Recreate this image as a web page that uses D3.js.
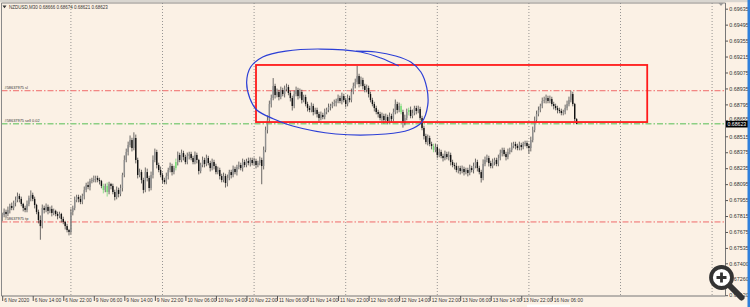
<!DOCTYPE html>
<html><head><meta charset="utf-8">
<script src="https://cdn.jsdelivr.net/npm/d3@7"></script>
<style>html,body{margin:0;padding:0;background:#fbf1e5;overflow:hidden}svg{display:block}</style>
</head><body><svg id="c" width="750" height="307"></svg>
<script>
// ---------- data ----------
const symbol = "NZDUSD,M30";
const firstOpen = 0.67800;
const closes = [
0.67824,0.67851,0.67833,0.67868,0.67903,0.67886,0.67930,0.67956,0.67991,0.67965,
0.67921,0.67886,0.67868,0.67921,0.67974,0.68000,0.67965,0.67912,0.67851,0.67780,
0.67727,0.67886,0.67868,0.67895,0.67860,0.67877,0.67842,0.67860,0.67833,0.67816,
0.67833,0.67789,0.67763,0.67727,0.67692,0.67675,0.67851,0.67886,0.67956,0.67982,
0.67965,0.67939,0.67991,0.68044,0.68087,0.68070,0.68122,0.68131,0.68140,0.68149,
0.68131,0.68122,0.68079,0.68044,0.68079,0.68026,0.68096,0.68079,0.68026,0.67982,
0.68044,0.68009,0.68061,0.68175,0.68307,0.68377,0.68438,0.68482,0.68412,0.68500,
0.68307,0.68175,0.68201,0.68131,0.68044,0.68201,0.68149,0.68061,0.68175,0.68307,
0.68377,0.68263,0.68219,0.68175,0.68131,0.68114,0.68166,0.68219,0.68254,0.68201,
0.68236,0.68289,0.68351,0.68307,0.68368,0.68333,0.68289,0.68342,0.68359,0.68324,
0.68289,0.68351,0.68307,0.68210,0.68263,0.68307,0.68272,0.68324,0.68280,0.68236,
0.68289,0.68254,0.68201,0.68219,0.68166,0.68131,0.68166,0.68105,0.68149,0.68201,
0.68175,0.68228,0.68201,0.68245,0.68263,0.68236,0.68289,0.68263,0.68298,0.68280,
0.68307,0.68280,0.68298,0.68263,0.68280,0.68307,0.68254,0.68395,0.68570,0.68658,
0.68798,0.68851,0.68956,0.68877,0.68904,0.68860,0.68921,0.68886,0.68930,0.68947,
0.68895,0.68851,0.68781,0.68886,0.68921,0.68868,0.68904,0.68833,0.68860,0.68798,
0.68763,0.68746,0.68781,0.68728,0.68746,0.68710,0.68675,0.68702,0.68684,0.68728,
0.68746,0.68772,0.68781,0.68798,0.68807,0.68825,0.68851,0.68825,0.68868,0.68833,
0.68798,0.68851,0.68833,0.68904,0.68956,0.68991,0.69044,0.68974,0.69009,0.68956,
0.68921,0.68939,0.68886,0.68833,0.68798,0.68763,0.68728,0.68710,0.68675,0.68693,
0.68658,0.68684,0.68649,0.68693,0.68667,0.68728,0.68798,0.68746,0.68781,0.68728,
0.68631,0.68675,0.68728,0.68746,0.68693,0.68719,0.68763,0.68737,0.68754,0.68675,
0.68588,0.68517,0.68465,0.68500,0.68447,0.68430,0.68395,0.68421,0.68351,0.68377,
0.68342,0.68324,0.68359,0.68333,0.68351,0.68289,0.68263,0.68254,0.68219,0.68236,
0.68210,0.68228,0.68201,0.68219,0.68193,0.68236,0.68219,0.68254,0.68289,0.68236,
0.68201,0.68149,0.68272,0.68307,0.68324,0.68280,0.68254,0.68289,0.68307,0.68272,
0.68324,0.68368,0.68395,0.68359,0.68333,0.68377,0.68395,0.68430,0.68447,0.68430,
0.68412,0.68438,0.68421,0.68447,0.68456,0.68430,0.68412,0.68482,0.68570,0.68658,
0.68710,0.68746,0.68781,0.68825,0.68833,0.68851,0.68825,0.68842,0.68798,0.68781,
0.68763,0.68746,0.68737,0.68719,0.68728,0.68763,0.68798,0.68833,0.68886,0.68798,
0.68666,0.68623
];
// wick lengths above / below the body, in pips
const wickUp = [
2,3,2,3,2,3,2,3,3,2, 2,1,2,3,2,4,2,2,1,2, 4,3,2,3,2,2,3,2,1,2, 2,1,2,1,2,1,3,2,3,2,
2,3,2,3,2,3,2,2,3,2, 2,2,1,2,2,3,2,1,2,2, 3,2,3,2,4,3,3,4,2,5, 3,2,3,2,2,4,3,2,3,4,
3,2,2,3,2,2,3,2,3,2, 2,3,3,2,3,2,2,3,2,2, 2,3,2,1,2,3,2,3,2,2, 3,2,2,3,2,2,3,2,3,2,
2,3,2,2,3,2,3,2,2,3, 2,2,3,2,2,3,2,3,3,4, 3,3,7,2,3,2,3,2,3,3, 2,2,2,3,3,2,3,2,2,2,
2,2,3,2,2,2,2,3,2,3, 2,3,2,2,3,2,3,2,3,2, 2,3,2,3,3,3,9,2,3,2, 2,3,2,2,2,2,2,2,2,3,
2,3,2,3,2,3,4,2,3,2, 2,3,3,2,3,3,2,2,3,2, 2,2,2,3,2,2,2,3,2,3, 2,2,3,2,3,2,2,2,3,2,
2,3,2,2,2,3,2,3,3,2, 2,2,4,3,3,2,2,3,2,2, 3,3,2,2,2,3,2,3,2,2, 2,3,2,2,2,2,2,3,3,3,
3,3,2,3,3,3,2,3,2,2, 2,2,2,2,2,3,3,3,3,2, 1,0.8
];
const wickDn = [
3,2,3,2,3,2,2,3,2,3, 2,3,2,2,2,3,2,3,2,3, 12,2,3,2,3,2,3,2,2,3, 2,3,2,3,2,3,2,3,2,2,
3,2,2,3,2,2,3,2,2,3, 2,3,2,3,2,4,2,3,2,3, 2,3,2,3,2,2,3,2,3,2, 3,3,2,3,3,2,3,3,2,3,
2,3,2,2,3,2,2,3,2,3, 2,2,3,2,2,3,2,2,3,2, 2,2,3,3,2,2,3,2,2,3, 2,3,2,2,3,2,2,4,3,2,
3,2,2,3,2,2,3,2,2,2, 3,2,2,3,2,2,16,3,2,3, 2,3,2,3,2,3,2,2,3,2, 2,3,4,2,2,3,2,3,2,2,
3,2,2,3,2,3,3,2,2,2, 2,2,3,2,2,3,2,2,3,2, 3,2,2,2,2,2,2,3,2,3, 2,2,3,2,2,3,2,3,2,3,
3,2,3,2,3,2,2,3,2,2, 4,2,2,3,2,2,2,3,2,2, 2,3,2,3,2,3,2,2,3,2, 2,3,2,2,3,3,2,3,2,3,
3,2,3,2,3,2,2,3,2,3, 2,4,2,2,2,3,2,2,3,2, 2,2,3,2,3,2,2,2,2,3, 2,2,3,2,2,2,5,3,2,2,
2,2,2,2,2,3,2,2,2,3, 2,3,2,2,2,2,2,2,2,2, 2,0.2
];
const greenBars = [53,55,91,209,213,226];
const priceTicks = [0.69635,0.69495,0.69355,0.69215,0.69075,0.68935,0.68795,0.68655,0.68515,
  0.68375,0.68235,0.68095,0.67955,0.67815,0.67675,0.67535,0.67400,0.67260,0.67120];
const timeLabels = ["6 Nov 2020","6 Nov 14:00","6 Nov 22:00","9 Nov 06:00","9 Nov 14:00","9 Nov 22:00",
  "10 Nov 06:00","10 Nov 14:00","10 Nov 22:00","11 Nov 06:00","11 Nov 14:00","11 Nov 22:00",
  "12 Nov 06:00","12 Nov 14:00","12 Nov 22:00","13 Nov 06:00","13 Nov 14:00","13 Nov 22:00","16 Nov 06:00"];
const timeLabelTimes = ["2020-11-06T06:00","2020-11-06T14:00","2020-11-06T22:00","2020-11-09T06:00",
  "2020-11-09T14:00","2020-11-09T22:00","2020-11-10T06:00","2020-11-10T14:00","2020-11-10T22:00",
  "2020-11-11T06:00","2020-11-11T14:00","2020-11-11T22:00","2020-11-12T06:00","2020-11-12T14:00",
  "2020-11-12T22:00","2020-11-13T06:00","2020-11-13T14:00","2020-11-13T22:00","2020-11-16T06:00"];
const orderNames = ["#58637975 sl","#58637975 sell 0.02","#58637975 tp"];
const orderPrices = [0.68915,0.68625,0.67763];
const orderKinds = ["stop","entry","stop"];
const boxTimes = ["2020-11-11T00:30","2020-11-17T07:00"];
const boxPrices = [0.69141,0.68640];
const loopBars = [207.8,198.4,187.9,166.9,148.6,136.5,130.2,128.1,129.7,133.4,142.3,152.2,174.8,201.0,
  213.1,219.9,223.0,222.5,219.4,214.1,206.2,195.8,185.3];
const loopPrices = [0.69132,0.69202,0.69255,0.69281,0.69263,0.69211,0.69123,0.68991,0.68851,0.68746,
  0.68667,0.68605,0.68535,0.68535,0.68570,0.68640,0.68789,0.68939,0.69079,0.69167,0.69220,0.69255,0.69263];

// ---------- bar times (M30, weekend skipped) ----------
const HALF = 30*60*1000;
const barTimes = [];
{ let t = Date.parse("2020-11-06T06:00Z");
  for (let i = 0; i < 420; i++) { barTimes.push(t); t += HALF; if (new Date(t).getUTCDay() === 6) t += 48*3600*1000; } }
const barOf = s => barTimes.indexOf(Date.parse(s + "Z"));

const bars = closes.map((c, i) => {
  const o = i === 0 ? firstOpen : closes[i-1];
  return {i, o, c, h: Math.max(o,c) + wickUp[i]*1e-4, l: Math.min(o,c) - wickDn[i]*1e-4};
});

// ---------- layout ----------
const svg = d3.select("#c");
const L = 1.5, R = 725.5, T = 3, B = 296;
const x = d3.scaleLinear().domain([0, 288]).range([2.2, 551.8]);
const y = d3.scaleLinear().domain([0.67120, 0.69635]).range([295.2, 8.7]);
const FONT = "'Liberation Sans', Arial, sans-serif";

svg.append("rect").attr("width",750).attr("height",307).attr("fill","#fbf1e5");
svg.append("rect").attr("width",750).attr("height",2.2).attr("fill","#d9d6d0");

const plot = svg.append("g");
plot.append("clipPath").attr("id","pc").append("rect").attr("x",L).attr("y",T).attr("width",R-L).attr("height",B-T);

// day separators (dotted grid)
const daySlots = barTimes.map((t,i)=>({t,i})).filter(d => { const dt = new Date(d.t); return dt.getUTCHours()===0 && dt.getUTCMinutes()===0 && x(d.i) < R-3; });
plot.selectAll("line.grid").data(daySlots).join("line").attr("class","grid")
  .attr("x1",d=>x(d.i)).attr("x2",d=>x(d.i)).attr("y1",T).attr("y2",B)
  .attr("stroke","#7d7d7d").attr("stroke-width",0.8).attr("stroke-dasharray","1,2");

// order lines
orderPrices.forEach((p,k) => {
  plot.append("line").attr("x1",L).attr("x2",R).attr("y1",y(p)).attr("y2",y(p))
    .attr("stroke", orderKinds[k]==="entry" ? "#8ccf84" : "#f06a6a")
    .attr("stroke-width", orderKinds[k]==="entry" ? 1.4 : 1)
    .attr("stroke-dasharray","6,2,1.5,2");
  plot.append("text").attr("x",4.5).attr("y",y(p)-1.6).text(orderNames[k])
    .attr("font-family",FONT).attr("font-size",3.9).attr("fill","#333");
});

// candles
const cg = plot.append("g").attr("clip-path","url(#pc)");
cg.selectAll("line.wick").data(bars).join("line").attr("class","wick")
  .attr("x1",d=>x(d.i)).attr("x2",d=>x(d.i)).attr("y1",d=>y(d.h)).attr("y2",d=>y(d.l))
  .attr("stroke",d=>greenBars.includes(d.i)?"#6fd46f":"#3a3a3a").attr("stroke-width",0.75);
cg.selectAll("rect.body").data(bars).join("rect").attr("class","body")
  .attr("x",d=>x(d.i)-0.7).attr("width",1.4)
  .attr("y",d=>y(Math.max(d.o,d.c))).attr("height",d=>Math.max(0.6, y(Math.min(d.o,d.c))-y(Math.max(d.o,d.c))))
  .attr("fill",d=>greenBars.includes(d.i)?"#74dc74":(d.c<d.o?"#111":"#8e8e8e"));

// rectangle annotation
const bx0 = x(barOf(boxTimes[0])), bx1 = x(barOf(boxTimes[1]));
plot.append("rect").attr("x",bx0).attr("y",y(boxPrices[0])).attr("width",bx1-bx0)
  .attr("height",y(boxPrices[1])-y(boxPrices[0])).attr("fill","none").attr("stroke","#ff1a1a").attr("stroke-width",1.8);

// hand-drawn loop
const loop = loopBars.map((b,k)=>[x(b), y(loopPrices[k])]);
plot.append("path").attr("d", d3.line().curve(d3.curveCatmullRom.alpha(0.5))(loop))
  .attr("fill","none").attr("stroke","#2c3fd6").attr("stroke-width",1.2);

// frame
svg.append("line").attr("x1",L).attr("x2",L).attr("y1",T).attr("y2",B).attr("stroke","#8a8a8a").attr("stroke-width",1);
svg.append("line").attr("x1",L).attr("x2",R).attr("y1",T).attr("y2",T).attr("stroke","#8a8a8a").attr("stroke-width",1);

// price axis
const ya = svg.append("g").attr("transform",`translate(${R},0)`)
  .call(d3.axisRight(y).tickValues(priceTicks).tickSize(2.5).tickPadding(1.2).tickFormat(d=>d.toFixed(5)));
ya.select(".domain").attr("stroke","#777").attr("d",`M0,${T}V${B}`);
ya.selectAll(".tick line").attr("stroke","#555");
ya.selectAll("text").attr("font-family",FONT).attr("font-size",5.4).attr("fill","#333");

// current price tag (drawn over the axis, as in the terminal)
const last = bars[bars.length-1];
ya.selectAll(".tick").filter(d => Math.abs(y(d) - y(last.c)) < 6).select("text").attr("dy","0.05em");
svg.append("rect").attr("x",R+0.5).attr("y",y(last.c)-3.1).attr("width",22).attr("height",6.6).attr("fill","#000");
svg.append("text").attr("x",R+2).attr("y",y(last.c)+1.9).text(last.c.toFixed(5))
  .attr("font-family",FONT).attr("font-size",5.2).attr("fill","#fff");

// time axis
const tickBars = timeLabelTimes.map(barOf);
const xa = svg.append("g").attr("transform",`translate(0,${B})`)
  .call(d3.axisBottom(x).tickValues(tickBars).tickSize(5).tickFormat((d,k)=>timeLabels[k]));
xa.select(".domain").attr("stroke","#777").attr("d",`M${L},0H${R}`);
xa.selectAll(".tick line").attr("stroke","#555");
xa.selectAll("text").attr("text-anchor","start").attr("x",1.5).attr("y",5.6).attr("dy",0)
  .attr("font-family",FONT).attr("font-size",4.9).attr("fill","#333");

// title
svg.append("path").attr("d","M2.5,5.6L6.5,5.6L4.5,8.2Z").attr("fill","#333");
svg.append("text").attr("x",9).attr("y",8.6)
  .text(`${symbol}  ${last.o.toFixed(5)} ${last.h.toFixed(5)} ${last.l.toFixed(5)} ${last.c.toFixed(5)}`)
  .attr("font-family",FONT).attr("font-size",4.5).attr("fill","#333");
// chart shift marker
svg.append("path").attr("d","M718.5,3L723.5,3L721,6Z").attr("fill","#9a9a9a");

// right window edge
svg.append("rect").attr("x",747.5).attr("y",0).attr("width",2.5).attr("height",307).attr("fill","#2f80dc");
svg.append("rect").attr("x",527).attr("y",304.5).attr("width",43).attr("height",2.5).attr("fill","#ffffff");

// zoom overlay icon
const ic = svg.append("g");
ic.append("line").attr("x1",729).attr("y1",285).attr("x2",741.5).attr("y2",297.5).attr("stroke","#333").attr("stroke-width",6).attr("stroke-linecap","round");
ic.append("circle").attr("cx",721.5).attr("cy",277.5).attr("r",10.5).attr("fill","#fff").attr("stroke","#333").attr("stroke-width",3.8);
ic.append("path").attr("d","M716.5,277.5H726.5M721.5,272.5V282.5").attr("stroke","#333").attr("stroke-width",2.8);
</script></body></html>
